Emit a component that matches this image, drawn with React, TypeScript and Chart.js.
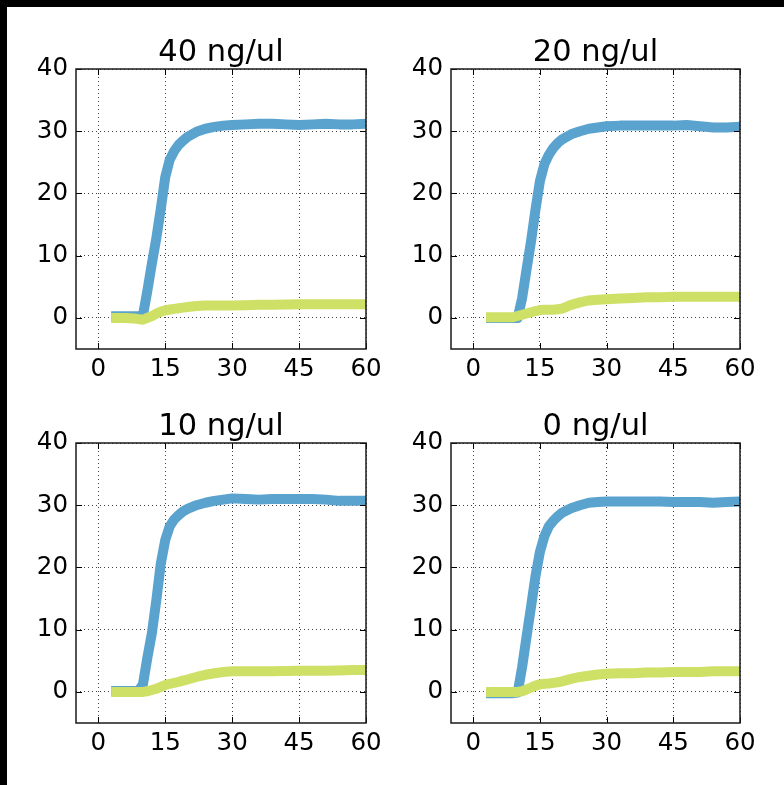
import React, { useEffect, useRef } from 'react';
import { Chart, registerables } from 'chart.js';

Chart.register(...registerables);

// ---- data ----
const MINUTES = [4, 6, 8, 9, 10, 11, 12, 13, 14, 15, 16, 17, 18, 19, 20, 22, 24, 26, 28, 30, 33, 36, 39, 42, 45, 48, 51, 54, 57, 60];
const PANEL_TITLES = ['40 ng/ul', '20 ng/ul', '10 ng/ul', '0 ng/ul'];
const X_TICKS = [0, 15, 30, 45, 60];
const Y_TICKS = [0, 10, 20, 30, 40];

const BLUE_40 = [0.25, 0.25, 0.25, 0.25, 0.4, 4.4, 8.7, 12.8, 17.5, 22.6, 25.4, 26.8, 27.8, 28.5, 29.1, 29.9, 30.4, 30.7, 30.9, 31.0, 31.1, 31.2, 31.2, 31.1, 31.0, 31.1, 31.2, 31.1, 31.1, 31.2];
const GREEN_40 = [0.0, 0.0, -0.1, -0.2, -0.3, 0.0, 0.3, 0.7, 1.0, 1.2, 1.35, 1.45, 1.55, 1.65, 1.75, 1.9, 2.0, 2.0, 2.0, 2.0, 2.05, 2.1, 2.1, 2.15, 2.2, 2.2, 2.2, 2.2, 2.2, 2.2];

const BLUE_20 = [0.0, 0.0, 0.0, 0.0, 0.0, 3.2, 7.8, 12.3, 17.4, 22.0, 24.7, 26.2, 27.3, 28.1, 28.7, 29.5, 30.0, 30.4, 30.6, 30.8, 30.9, 30.9, 30.9, 30.9, 30.9, 31.0, 30.8, 30.6, 30.6, 30.7];
const GREEN_20 = [0.1, 0.1, 0.1, 0.1, 0.3, 0.5, 0.7, 0.9, 1.1, 1.25, 1.3, 1.3, 1.3, 1.4, 1.5, 2.1, 2.5, 2.8, 2.9, 3.0, 3.1, 3.2, 3.3, 3.3, 3.4, 3.4, 3.4, 3.4, 3.4, 3.4];

const BLUE_10 = [0.15, 0.15, 0.15, 0.15, 1.2, 5.5, 9.4, 14.7, 20.6, 24.4, 26.6, 27.7, 28.4, 29.0, 29.4, 30.0, 30.4, 30.7, 30.9, 31.1, 31.0, 30.9, 31.0, 31.0, 31.0, 31.0, 30.9, 30.7, 30.7, 30.7];
const GREEN_10 = [0.0, 0.0, 0.0, 0.0, 0.0, 0.1, 0.3, 0.5, 0.8, 1.1, 1.3, 1.45, 1.6, 1.8, 2.0, 2.4, 2.75, 3.0, 3.2, 3.3, 3.3, 3.3, 3.3, 3.35, 3.4, 3.4, 3.4, 3.45, 3.5, 3.5];

const BLUE_0 = [-0.2, -0.2, -0.2, -0.2, -0.1, 4.0, 8.9, 13.7, 18.6, 22.5, 25.0, 26.6, 27.5, 28.2, 28.8, 29.5, 30.0, 30.4, 30.5, 30.6, 30.6, 30.6, 30.6, 30.6, 30.5, 30.5, 30.5, 30.4, 30.5, 30.6];
const GREEN_0 = [0.0, 0.0, 0.0, 0.0, 0.0, 0.1, 0.4, 0.7, 1.0, 1.2, 1.3, 1.35, 1.45, 1.55, 1.7, 2.1, 2.4, 2.6, 2.8, 2.9, 3.0, 3.0, 3.1, 3.1, 3.2, 3.2, 3.2, 3.3, 3.3, 3.3];

const BLUE_SERIES = [BLUE_40, BLUE_20, BLUE_10, BLUE_0];
const GREEN_SERIES = [GREEN_40, GREEN_20, GREEN_10, GREEN_0];

// ---- layout / style ----
const BLUE = '#5aa3cf';
const GREEN = '#cfe066';
const FONT = "'DejaVu Sans', 'Liberation Sans', sans-serif";
const PANELS = [
  { left: 76, top: 69, w: 290, h: 280 },
  { left: 451, top: 69, w: 289, h: 280 },
  { left: 76, top: 443, w: 290, h: 280 },
  { left: 451, top: 443, w: 289, h: 280 },
];
const PAD_L = 70;
const PAD_T = 40;
const PAD_R = 34;
const PAD_B = 46;
const TITLE_SIZE = 30.5;
const TITLE_PAD_TOP = 9.25;

const framePlugin = {
  id: 'frameTicks',
  afterDatasetsDraw(chart: any) {
    const { ctx, chartArea: a, scales } = chart;
    const xs = scales.x;
    const ys = scales.y;
    ctx.save();
    ctx.strokeStyle = '#000';
    ctx.lineWidth = 1;
    ctx.beginPath();
    const L = 6;
    for (const t of xs.ticks) {
      const px = Math.round(xs.getPixelForValue(t.value)) + 0.5;
      ctx.moveTo(px, a.bottom);
      ctx.lineTo(px, a.bottom - L);
      ctx.moveTo(px, a.top);
      ctx.lineTo(px, a.top + L);
    }
    for (const t of ys.ticks) {
      const py = Math.round(ys.getPixelForValue(t.value)) + 0.5;
      ctx.moveTo(a.left, py);
      ctx.lineTo(a.left + L, py);
      ctx.moveTo(a.right, py);
      ctx.lineTo(a.right - L, py);
    }
    ctx.stroke();
    ctx.lineWidth = 1.5;
    ctx.strokeStyle = '#1a1a1a';
    ctx.strokeRect(a.left, a.top, a.right - a.left, a.bottom - a.top);
    ctx.restore();
  },
};

function Panel({ index }: { index: number }) {
  const ref = useRef<HTMLCanvasElement | null>(null);
  const p = PANELS[index];
  const cw = p.w + PAD_L + PAD_R;
  const ch = p.h + PAD_T + PAD_B;

  useEffect(() => {
    if (!ref.current) return;
    const blue = BLUE_SERIES[index];
    const green = GREEN_SERIES[index];
    const chart = new Chart(ref.current, {
      type: 'line',
      data: {
        datasets: [
          {
            data: MINUTES.map((m, i) => ({ x: m, y: blue[i] })),
            borderColor: BLUE,
            borderWidth: 10,
            pointRadius: 0,
            tension: 0,
            borderJoinStyle: 'round',
            borderCapStyle: 'square',
            order: 1,
          },
          {
            data: MINUTES.map((m, i) => ({ x: m, y: green[i] })),
            borderColor: GREEN,
            borderWidth: 10,
            pointRadius: 0,
            tension: 0,
            borderJoinStyle: 'round',
            borderCapStyle: 'square',
            order: 0,
          },
        ],
      },
      options: {
        responsive: false,
        animation: false,
        events: [],
        layout: { padding: { left: 0, top: 0, right: PAD_R, bottom: 0 } },
        plugins: {
          legend: { display: false },
          tooltip: { enabled: false },
          title: {
            display: true,
            fullSize: false,
            text: PANEL_TITLES[index],
            color: '#000',
            font: { family: FONT, size: TITLE_SIZE, weight: 'normal', lineHeight: 1 },
            padding: { top: TITLE_PAD_TOP, bottom: PAD_T - TITLE_SIZE - TITLE_PAD_TOP },
          },
        },
        scales: {
          x: {
            type: 'linear',
            min: -5,
            max: 60,
            afterBuildTicks: (s: any) => {
              s.ticks = X_TICKS.map((v) => ({ value: v }));
            },
            afterFit: (s: any) => {
              s.height = PAD_B;
            },
            grid: { color: 'rgba(0,0,0,0.75)', lineWidth: 1, drawTicks: false },
            border: { display: false, dash: [1, 3] },
            ticks: {
              color: '#000',
              font: { family: FONT, size: 24.5 },
              padding: 6,
              maxRotation: 0,
              autoSkip: false,
            },
          },
          y: {
            type: 'linear',
            min: -5,
            max: 40,
            afterBuildTicks: (s: any) => {
              s.ticks = Y_TICKS.map((v) => ({ value: v }));
            },
            afterFit: (s: any) => {
              s.width = PAD_L;
            },
            grid: { color: 'rgba(0,0,0,0.75)', lineWidth: 1, drawTicks: false },
            border: { display: false, dash: [1, 3] },
            ticks: {
              color: '#000',
              font: { family: FONT, size: 24.5 },
              padding: 8,
              autoSkip: false,
            },
          },
        },
      },
      plugins: [framePlugin],
    } as any);
    return () => chart.destroy();
  }, [index]);

  return (
    <canvas
      ref={ref}
      width={cw}
      height={ch}
      style={{
        position: 'absolute',
        left: p.left - PAD_L,
        top: p.top - PAD_T,
        width: cw,
        height: ch,
      }}
    />
  );
}

export default function App() {
  return (
    <div
      style={{
        position: 'fixed',
        left: 0,
        top: 0,
        width: 784,
        height: 785,
        background: '#000',
        overflow: 'hidden',
      }}
    >
      <div
        style={{
          position: 'absolute',
          left: 7,
          top: 7,
          right: 0,
          bottom: 0,
          background: '#fff',
        }}
      />
      {PANELS.map((_, i) => (
        <Panel key={i} index={i} />
      ))}
    </div>
  );
}
